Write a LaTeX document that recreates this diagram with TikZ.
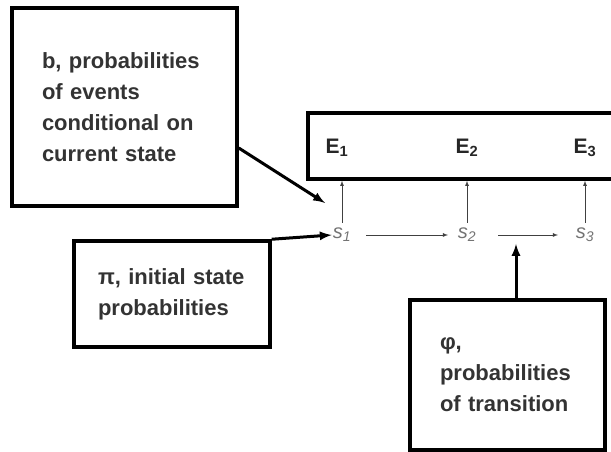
\documentclass[tikz,border=0pt]{standalone}
\usepackage{fontspec}
\setmainfont{Liberation Sans}
\usetikzlibrary{positioning}

\tikzset{
  infobox/.style={draw,line width=3.5pt,align=left,inner sep=0pt,
    font=\bfseries\fontsize{22}{31}\selectfont,text=black!80},
  bigarrow/.style={-latex,line width=3pt},
  thinarrow/.style={-latex,line width=0.8pt,black!75},
  statelabel/.style={font=\itshape\fontsize{20}{20}\selectfont,text=black!55,inner sep=1pt},
  eventlabel/.style={font=\bfseries\fontsize{21}{21}\selectfont,text=black!85}
}

\begin{document}
\begin{tikzpicture}[x=1pt,y=1pt]
      \useasboundingbox (0,0) rectangle (611,452);
      \node[infobox,minimum width=225,minimum height=198,text width=165] (bbox) at (124.5,345)
        {b, probabilities\\of events\\conditional on\\current state};
      \node[infobox,minimum width=196,minimum height=106,text width=148] (pibox) at (172,158)
        {π, initial state\\probabilities};
      \node[infobox,minimum width=195,minimum height=150,text width=135] (phibox) at (507.5,77)
        {φ,\\probabilities\\of transition};
      \node[draw,line width=3.5pt,minimum width=317,minimum height=66] (ebox) at (466.5,306) {};
      \node[eventlabel] (e1) at (337,304) {E\textsubscript{1}};
      \node[eventlabel] (e2) at (467,304) {E\textsubscript{2}};
      \node[eventlabel] (e3) at (585,304) {E\textsubscript{3}};
      \node[statelabel] (s1) at (342,217) {s\textsubscript{1}};
      \node[statelabel] (s2) at (467,217) {s\textsubscript{2}};
      \node[statelabel] (s3) at (585,217) {s\textsubscript{3}};
      \coordinate (btip) at (325,249);
      \coordinate (phitip) at (516,208);
      \draw[thinarrow,shorten <=24pt,shorten >=19pt] (s1.center) -- (s2.center);
      \draw[thinarrow,shorten <=31pt,shorten >=27pt] (s2.center) -- (s3.center);
      \foreach \s in {s1,s2,s3}
        \draw[thinarrow,shorten <=4pt] (\s.north) -- (\s |- ebox.south);
      \draw[bigarrow] ([yshift=-41pt]bbox.east) -- (btip);
      \draw[bigarrow] (pibox.north east) -- (s1.west);
      \draw[bigarrow] (phitip |- phibox.north) -- (phitip);
    \end{tikzpicture}
\end{document}
